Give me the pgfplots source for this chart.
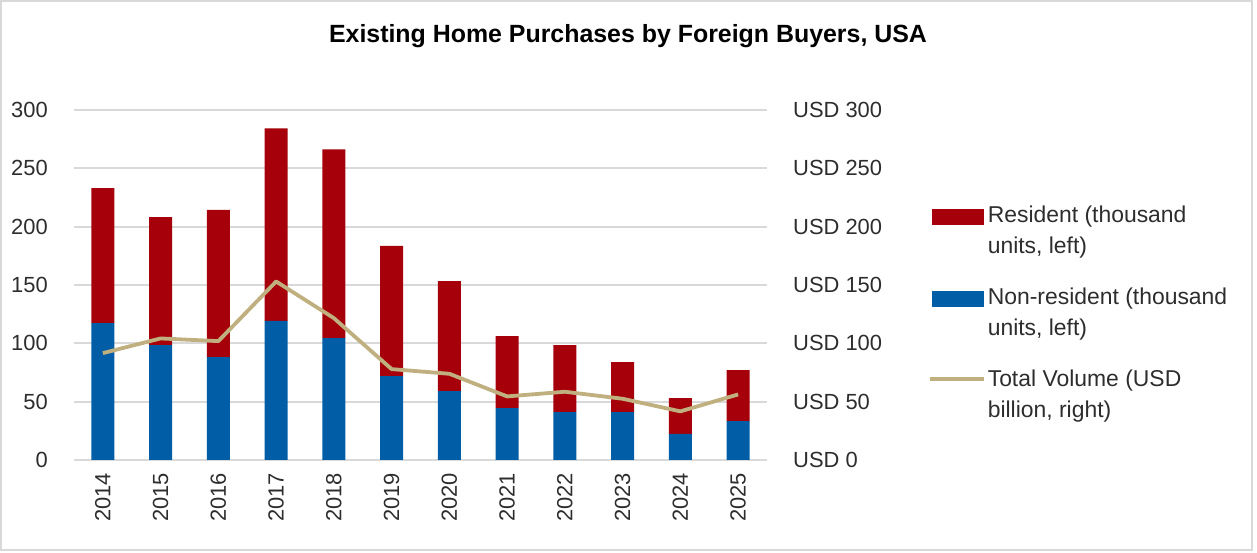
\documentclass[border=0pt]{standalone}
\usepackage{fontspec}
\setmainfont{Liberation Sans}
\usepackage{pgfplots}
\usepackage{pgfplotstable}
\pgfplotsset{compat=1.18}
\definecolor{resred}{RGB}{166,0,10}
\definecolor{nonblue}{RGB}{0,93,166}
\definecolor{voltan}{RGB}{192,176,128}
\definecolor{gridgray}{RGB}{217,217,217}
\definecolor{txt}{RGB}{45,45,45}

\pgfplotstableread{
x year nonres res vol
0 2014 117.3 115.7 91.6
1 2015 98.5 109.6 104.2
2 2016 88.2 126.2 101.9
3 2017 119.3 165.0 153.0
4 2018 104.5 161.8 121.6
5 2019 71.9 111.7 77.9
6 2020 59.1 94.2 73.9
7 2021 44.5 61.7 54.5
8 2022 41.1 57.4 58.5
9 2023 41.1 42.8 52.5
10 2024 22.3 30.8 41.7
11 2025 33.4 43.7 56.2
}\datatable

\pgfplotsset{
  common/.style={
    at={(74bp,93bp)}, anchor=south west,
    scale only axis, width=693bp, height=350bp,
    xmin=-0.5, xmax=11.5, ymin=0, ymax=300,
    ytick={0,50,...,300},
    tick style={draw=none},
    tick label style={font=\fontsize{22}{26}\selectfont, text=txt},
    /pgf/number format/assume math mode=true,
  }
}

\begin{document}
\begin{tikzpicture}
\useasboundingbox (0,0) rectangle (1257bp,553bp);
\draw[gridgray, line width=2bp] (1bp,3bp) rectangle (1252bp,552bp);
\node[font=\fontsize{25}{29}\selectfont\bfseries] at (628bp,517bp) {Existing Home Purchases by Foreign Buyers, USA};

\begin{axis}[
  common,
  ybar stacked, bar width=23bp,
  axis y line*=left, axis x line*=bottom,
  y axis line style={draw=none},
  x axis line style={gridgray, line width=2bp},
  ymajorgrids, grid style={gridgray, line width=2bp},
  xtick={0,...,11},
  xticklabels={2014,2015,2016,2017,2018,2019,2020,2021,2022,2023,2024,2025},
  xticklabel style={rotate=90, anchor=east, inner xsep=13bp, inner ysep=0pt},
  yticklabel style={anchor=east, inner sep=0pt, xshift=-26bp},
]
\addplot[fill=nonblue, draw=none] table[x=x, y=nonres]{\datatable};
\addplot[fill=resred, draw=none] table[x=x, y=res]{\datatable};
\end{axis}

\begin{axis}[
  common,
  axis y line*=right, axis x line=none,
  y axis line style={draw=none},
  yticklabel={USD \pgfmathprintnumber{\tick}},
  yticklabel style={anchor=west, inner sep=0pt, xshift=26bp},
  legend cell align=left,
  legend style={at={(1.232,0.731)}, anchor=north west, draw=none, fill=none,
    font=\fontsize{23}{31}\selectfont, text=txt, inner sep=0pt,
    row sep=29bp, cells={align=left}},
]
\addlegendimage{legend image code/.code={\fill[resred] (0bp,6.8bp) rectangle (51bp,21.5bp);}}
\addlegendentry{Resident (thousand\\units, left)}
\addlegendimage{legend image code/.code={\fill[nonblue] (0bp,6.8bp) rectangle (51bp,21.5bp);}}
\addlegendentry{Non-resident (thousand\\units, left)}
\addplot[voltan, line width=3.8bp, line join=round,
  legend image code/.code={\draw[voltan, line width=3.8bp] (-2bp,15.5bp) -- (52bp,15.5bp);}]
  table[x=x, y=vol]{\datatable};
\addlegendentry{Total Volume (USD\\billion, right)}
\end{axis}
\end{tikzpicture}
\end{document}
